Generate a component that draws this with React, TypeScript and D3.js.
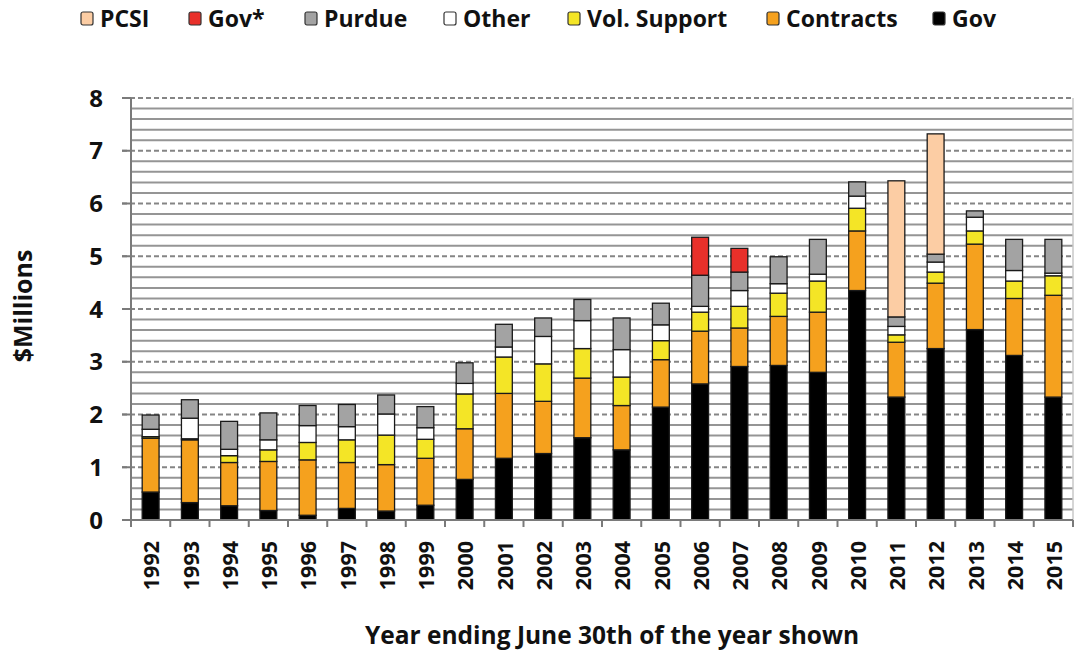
import { useEffect, useRef } from "react"
import * as d3 from "d3"

// Années (axe X)
const years = [
  "1992", "1993", "1994", "1995", "1996", "1997", "1998", "1999", "2000", "2001", "2002", "2003",
  "2004", "2005", "2006", "2007", "2008", "2009", "2010", "2011", "2012", "2013", "2014", "2015",
]

// Valeurs en $ millions, par série
const gov = [0.53, 0.33, 0.27, 0.18, 0.09, 0.22, 0.17, 0.28, 0.77, 1.17, 1.26, 1.56, 1.33, 2.14, 2.58, 2.91, 2.93, 2.8, 4.35, 2.33, 3.25, 3.61, 3.12, 2.33]
const contracts = [1.02, 1.19, 0.82, 0.93, 1.05, 0.87, 0.88, 0.89, 0.96, 1.23, 0.99, 1.13, 0.84, 0.9, 1.0, 0.73, 0.93, 1.14, 1.13, 1.04, 1.24, 1.62, 1.08, 1.93]
const volSupport = [0.03, 0.02, 0.13, 0.22, 0.33, 0.43, 0.56, 0.36, 0.66, 0.69, 0.71, 0.56, 0.54, 0.36, 0.36, 0.41, 0.44, 0.59, 0.43, 0.14, 0.21, 0.25, 0.33, 0.37]
const other = [0.14, 0.39, 0.12, 0.19, 0.32, 0.25, 0.4, 0.22, 0.2, 0.19, 0.52, 0.53, 0.52, 0.3, 0.11, 0.3, 0.18, 0.13, 0.23, 0.16, 0.19, 0.26, 0.2, 0.05]
const purdue = [0.27, 0.35, 0.53, 0.51, 0.38, 0.42, 0.36, 0.4, 0.39, 0.43, 0.35, 0.4, 0.6, 0.41, 0.59, 0.35, 0.51, 0.66, 0.27, 0.18, 0.15, 0.12, 0.59, 0.64]
const govStar = [0, 0, 0, 0, 0, 0, 0, 0, 0, 0, 0, 0, 0, 0, 0.72, 0.45, 0, 0, 0, 0, 0, 0, 0, 0]
const pcsi = [0, 0, 0, 0, 0, 0, 0, 0, 0, 0, 0, 0, 0, 0, 0, 0, 0, 0, 0, 2.58, 2.28, 0, 0, 0]

const yTicks = [0, 1, 2, 3, 4, 5, 6, 7, 8]

// Empilement du bas vers le haut
const SERIES = [
  { key: "gov", label: "Gov", color: "#000000", values: gov },
  { key: "contracts", label: "Contracts", color: "#f5a11e", values: contracts },
  { key: "vol", label: "Vol. Support", color: "#f4e526", values: volSupport },
  { key: "other", label: "Other", color: "#ffffff", values: other },
  { key: "purdue", label: "Purdue", color: "#a3a3a3", values: purdue },
  { key: "govStar", label: "Gov*", color: "#e8302a", values: govStar },
  { key: "pcsi", label: "PCSI", color: "#fccda4", values: pcsi },
]

const FONT = "'Open Sans', sans-serif"

export default function App() {
  const svgRef = useRef<SVGSVGElement>(null)

  useEffect(() => {
    if (!svgRef.current) return
    const svg = d3.select(svgRef.current)
    svg.selectAll("*").remove()

    const left = 131
    const right = 1073
    const top = 98
    const bottom = 520

    const x = d3.scaleBand().domain(years).range([left, right]).paddingInner(0.57).paddingOuter(0.285)
    const y = d3.scaleLinear().domain([0, 8]).range([bottom, top])

    const rows = years.map((yr, i) => {
      const row: Record<string, number | string> = { year: yr }
      SERIES.forEach((s) => (row[s.key] = s.values[i]))
      return row
    })
    const stacked = d3.stack<Record<string, number | string>>().keys(SERIES.map((s) => s.key))(rows as any)

    const g = svg.append("g")

    // Grille mineure (pas de 0.2)
    g.selectAll(".minor")
      .data(y.ticks(40).filter((t) => Math.abs(t - Math.round(t)) > 1e-6))
      .enter()
      .append("line")
      .attr("x1", left)
      .attr("x2", right)
      .attr("y1", (d) => y(d))
      .attr("y2", (d) => y(d))
      .attr("stroke", "#959595")
      .attr("stroke-width", 2)

    // Grille majeure en pointillés
    g.selectAll(".major")
      .data(yTicks.filter((t) => t > 0))
      .enter()
      .append("line")
      .attr("x1", left - 9)
      .attr("x2", right)
      .attr("y1", (d) => y(d))
      .attr("y2", (d) => y(d))
      .attr("stroke", "#858585")
      .attr("stroke-width", 2)
      .attr("stroke-dasharray", "5,3")

    // Bord droit
    g.append("line")
      .attr("x1", right)
      .attr("x2", right)
      .attr("y1", top)
      .attr("y2", bottom)
      .attr("stroke", "#c8c8c8")
      .attr("stroke-width", 1.5)

    // Barres empilées
    stacked.forEach((layer, li) => {
      const s = SERIES[li]
      g.append("g")
        .selectAll("rect")
        .data(layer.filter((d) => d[1] - d[0] > 0))
        .enter()
        .append("rect")
        .attr("x", (d) => x(d.data.year as string)!)
        .attr("width", x.bandwidth())
        .attr("y", (d) => y(d[1]))
        .attr("height", (d) => y(d[0]) - y(d[1]))
        .attr("fill", s.color)
        .attr("stroke", "#1a1a1a")
        .attr("stroke-width", 1.3)
    })

    // Axe Y
    g.append("line")
      .attr("x1", left)
      .attr("x2", left)
      .attr("y1", top)
      .attr("y2", bottom)
      .attr("stroke", "#7a7a7a")
      .attr("stroke-width", 2)

    g.selectAll(".ytick")
      .data(yTicks)
      .enter()
      .append("line")
      .attr("x1", left - 9)
      .attr("x2", left)
      .attr("y1", (d) => y(d))
      .attr("y2", (d) => y(d))
      .attr("stroke", "#7a7a7a")
      .attr("stroke-width", 2)

    g.selectAll(".ylabel")
      .data(yTicks)
      .enter()
      .append("text")
      .attr("x", 103)
      .attr("y", (d) => y(d))
      .attr("dy", "0.36em")
      .attr("text-anchor", "end")
      .attr("font-family", FONT)
      .attr("font-weight", 700)
      .attr("font-size", 24)
      .attr("fill", "#111")
      .text((d) => String(d))

    // Axe X
    g.append("line")
      .attr("x1", left)
      .attr("x2", right)
      .attr("y1", bottom)
      .attr("y2", bottom)
      .attr("stroke", "#7a7a7a")
      .attr("stroke-width", 2)

    const step = x.step()
    g.selectAll(".xtick")
      .data(d3.range(years.length + 1))
      .enter()
      .append("line")
      .attr("x1", (i) => left + i * step)
      .attr("x2", (i) => left + i * step)
      .attr("y1", bottom)
      .attr("y2", bottom + 7)
      .attr("stroke", "#7a7a7a")
      .attr("stroke-width", 2)

    g.selectAll(".xlabel")
      .data(years)
      .enter()
      .append("text")
      .attr("transform", (d) => `translate(${x(d)! + x.bandwidth() / 2 + 1},541) rotate(-90)`)
      .attr("dy", "0.36em")
      .attr("text-anchor", "end")
      .attr("font-family", FONT)
      .attr("font-weight", 700)
      .attr("font-size", 21.5)
      .attr("fill", "#111")
      .text((d) => d)

    // Titres des axes
    svg.append("text")
      .attr("transform", "translate(32,306) rotate(-90)")
      .attr("text-anchor", "middle")
      .attr("font-family", FONT)
      .attr("font-weight", 700)
      .attr("font-size", 25)
      .attr("fill", "#111")
      .text("$Millions")

    svg.append("text")
      .attr("x", 612)
      .attr("y", 644)
      .attr("text-anchor", "middle")
      .attr("font-family", FONT)
      .attr("font-weight", 700)
      .attr("font-size", 24.5)
      .attr("fill", "#111")
      .text("Year ending June 30th of the year shown")

    // Légende
    const legendOrder = ["pcsi", "govStar", "purdue", "other", "vol", "contracts", "gov"]
    const legendX = [81, 189, 305, 444, 568, 767, 933]
    legendOrder.forEach((k, i) => {
      const s = SERIES.find((d) => d.key === k)!
      const lg = svg.append("g").attr("transform", `translate(${legendX[i]},12)`)
      lg.append("rect")
        .attr("width", 12)
        .attr("height", 13)
        .attr("rx", 2)
        .attr("fill", s.color)
        .attr("stroke", "#333")
        .attr("stroke-width", 1.2)
      lg.append("text")
        .attr("x", 19)
        .attr("y", 15)
        .attr("font-family", FONT)
        .attr("font-weight", 700)
        .attr("font-size", 23)
        .attr("fill", "#111")
        .text(s.label)
    })
  }, [])

  return (
    <div style={{ position: "absolute", left: 0, top: 0 }}>
      <svg ref={svgRef} width={1076} height={654} style={{ background: "#fff", display: "block" }} />
    </div>
  )
}
